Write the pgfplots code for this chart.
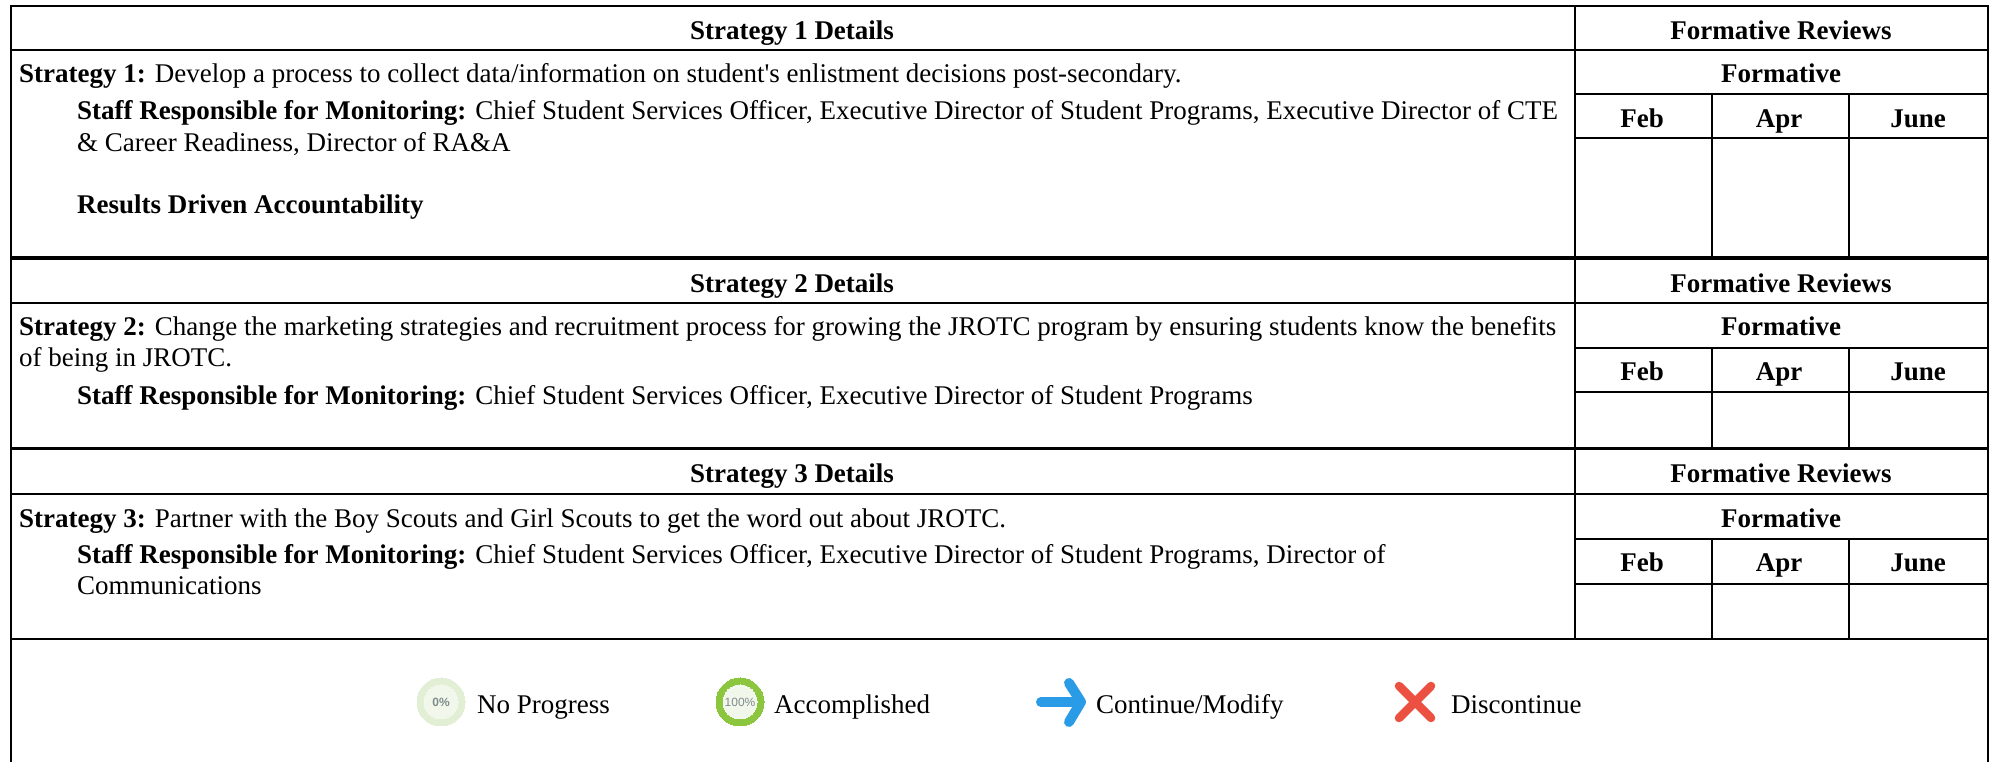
\documentclass[border=0pt]{standalone}
\usepackage{pgfplots}
\pgfplotsset{compat=1.18}
\usepackage{fontspec}
\setmainfont{Liberation Serif}
\newfontfamily\iconfont{Liberation Sans}
\definecolor{ringlight}{HTML}{E2EFD5}
\definecolor{ringfull}{HTML}{8CC63F}
\definecolor{ringin}{HTML}{F2F7EC}
\definecolor{icontxt}{HTML}{7F8C8D}
\definecolor{arrowblue}{HTML}{2A9BE6}
\definecolor{crossred}{HTML}{EB5040}
\tikzset{
  tx/.style={anchor=base west, inner sep=0pt, font=\fontsize{27}{31}\selectfont},
  bc/.style={anchor=base, inner sep=0pt, font=\fontsize{27}{31}\selectfont\bfseries},
  lg/.style={anchor=base west, inner sep=0pt, font=\fontsize{27}{31}\selectfont},
}
\begin{document}
\begin{tikzpicture}
\begin{axis}[
  width=1993pt, height=762pt, scale only axis,
  xmin=0, xmax=1993, ymin=0, ymax=762, y dir=reverse,
  hide axis, clip=false, set layers,
  unbounded coords=jump,
  every axis plot/.append style={forget plot},
]
% page
\addplot[draw=none, fill=white] coordinates {(0,0)(1993,0)(1993,762)(0,762)} -- cycle;
% thin rules
\addplot[black, line width=2pt, line cap=rect] coordinates {
 (11,6)(1988,6) (nan,nan)
 (11,50)(1988,50) (nan,nan)
 (1575,94)(1988,94) (nan,nan)
 (1575,138)(1988,138) (nan,nan)
 (11,303)(1988,303) (nan,nan)
 (1575,348)(1988,348) (nan,nan)
 (1575,392)(1988,392) (nan,nan)
 (11,494)(1988,494) (nan,nan)
 (1575,539)(1988,539) (nan,nan)
 (1575,584)(1988,584) (nan,nan)
 (11,639)(1988,639) (nan,nan)
 (11,6)(11,761) (nan,nan)
 (1988,6)(1988,761) (nan,nan)
 (1575,6)(1575,639) (nan,nan)
 (1712,94)(1712,258) (nan,nan)
 (1849,94)(1849,258) (nan,nan)
 (1712,348)(1712,449) (nan,nan)
 (1849,348)(1849,449) (nan,nan)
 (1712,539)(1712,639) (nan,nan)
 (1849,539)(1849,639) (nan,nan)
};
% heavy rules between strategies
\addplot[black, line width=3.6pt] coordinates {(11,258)(1988,258)};
\addplot[black, line width=3pt] coordinates {(11,449)(1988,449)};
% legend icons
\addplot[only marks, mark=*, mark size=24, mark options={draw=ringlight, line width=0pt, fill=ringlight}] coordinates {(441,702)};
\addplot[only marks, mark=*, mark size=17, mark options={draw=ringin, line width=0pt, fill=ringin}] coordinates {(441,702)};
\addplot[only marks, mark=*, mark size=24, mark options={draw=ringfull, line width=0pt, fill=ringfull}] coordinates {(740,702)};
\addplot[only marks, mark=*, mark size=17, mark options={draw=ringin, line width=0pt, fill=ringin}] coordinates {(740,702)};
\addplot[arrowblue, line width=10pt, line cap=round] coordinates {(1041,702)(1080,702)};
\addplot[arrowblue, line width=10pt, line cap=round, line join=round] coordinates {(1069,683)(1081,702)(1069,722)};
\addplot[crossred, line width=8.5pt, line cap=round] coordinates {(1399,686)(1431,718) (nan,nan) (1399,718)(1431,686)};
% headers
\node[bc] at (axis cs:792,40) {Strategy 1 Details};
\node[bc] at (axis cs:792,293) {Strategy 2 Details};
\node[bc] at (axis cs:792,483) {Strategy 3 Details};
\node[bc] at (axis cs:1781,40) {Formative Reviews};
\node[bc] at (axis cs:1781,83) {Formative};
\node[bc] at (axis cs:1642,128) {Feb};
\node[bc] at (axis cs:1779,128) {Apr};
\node[bc] at (axis cs:1918,128) {June};
\node[bc] at (axis cs:1781,293) {Formative Reviews};
\node[bc] at (axis cs:1781,336) {Formative};
\node[bc] at (axis cs:1642,381) {Feb};
\node[bc] at (axis cs:1779,381) {Apr};
\node[bc] at (axis cs:1918,381) {June};
\node[bc] at (axis cs:1781,483) {Formative Reviews};
\node[bc] at (axis cs:1781,528) {Formative};
\node[bc] at (axis cs:1642,572) {Feb};
\node[bc] at (axis cs:1779,572) {Apr};
\node[bc] at (axis cs:1918,572) {June};
% body text
\node[tx] at (axis cs:19,83) {\textbf{Strategy 1:} Develop a process to collect data/information on student\textquotesingle s enlistment decisions post-secondary.};
\node[tx] at (axis cs:77,120) {\textbf{Staff Responsible for Monitoring:} Chief Student Services Officer, Executive Director of Student Programs, Executive Director of CTE};
\node[tx] at (axis cs:77,152) {\& Career Readiness, Director of RA\&A};
\node[tx] at (axis cs:77,214) {\textbf{Results Driven Accountability}};
\node[tx] at (axis cs:19,336) {\textbf{Strategy 2:} Change the marketing strategies and recruitment process for growing the JROTC program by ensuring students know the benefits};
\node[tx] at (axis cs:19,367) {of being in JROTC.};
\node[tx] at (axis cs:77,405) {\textbf{Staff Responsible for Monitoring:} Chief Student Services Officer, Executive Director of Student Programs};
\node[tx] at (axis cs:19,528) {\textbf{Strategy 3:} Partner with the Boy Scouts and Girl Scouts to get the word out about JROTC.};
\node[tx] at (axis cs:77,564) {\textbf{Staff Responsible for Monitoring:} Chief Student Services Officer, Executive Director of Student Programs, Director of};
\node[tx] at (axis cs:77,595) {Communications};
% legend
\begin{pgfonlayer}{axis foreground}
\node[inner sep=0pt, text=icontxt, font=\iconfont\bfseries\fontsize{12}{14}\selectfont] at (axis cs:441,702) {0\%};
\node[inner sep=0pt, text=icontxt, font=\iconfont\fontsize{12}{14}\selectfont] at (axis cs:740,702) {100\%};
\end{pgfonlayer}
\node[lg] at (axis cs:477,714) {No Progress};
\node[lg] at (axis cs:774,714) {Accomplished};
\node[lg] at (axis cs:1096,714) {Continue/Modify};
\node[lg] at (axis cs:1451,714) {Discontinue};
\end{axis}
\end{tikzpicture}
\end{document}
